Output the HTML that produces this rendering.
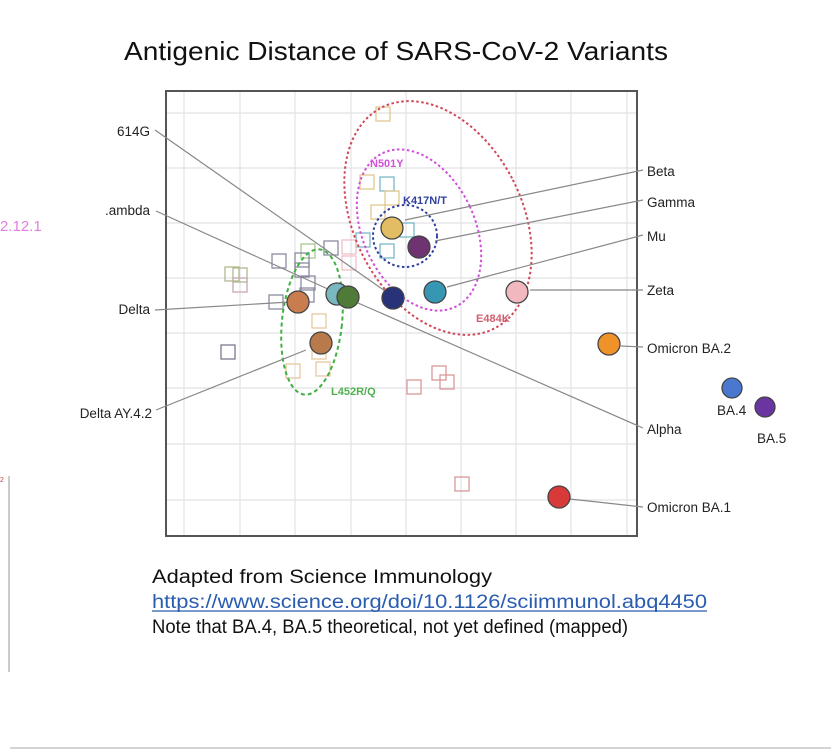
<!DOCTYPE html>
<html><head><meta charset="utf-8"><style>
body{margin:0;background:#fff;}
svg{display:block;font-family:"Liberation Sans",Arial,sans-serif;}
</style></head><body>
<svg width="831" height="750" viewBox="0 0 831 750">
<rect width="831" height="750" fill="#fff"/>
<text x="124" y="60" font-size="26" textLength="544" lengthAdjust="spacingAndGlyphs" fill="#111">Antigenic Distance of SARS-CoV-2 Variants</text>
<g stroke="#e2e2e8" stroke-width="1.2">
<line x1="184" y1="92" x2="184" y2="535"/><line x1="240" y1="92" x2="240" y2="535"/><line x1="295" y1="92" x2="295" y2="535"/><line x1="351" y1="92" x2="351" y2="535"/><line x1="406" y1="92" x2="406" y2="535"/><line x1="461" y1="92" x2="461" y2="535"/><line x1="516" y1="92" x2="516" y2="535"/><line x1="571" y1="92" x2="571" y2="535"/><line x1="627" y1="92" x2="627" y2="535"/>
<line x1="167" y1="113" x2="636" y2="113"/><line x1="167" y1="168" x2="636" y2="168"/><line x1="167" y1="223" x2="636" y2="223"/><line x1="167" y1="278" x2="636" y2="278"/><line x1="167" y1="333" x2="636" y2="333"/><line x1="167" y1="388" x2="636" y2="388"/><line x1="167" y1="444" x2="636" y2="444"/><line x1="167" y1="500" x2="636" y2="500"/>
</g>
<rect x="166" y="91" width="471" height="445" fill="none" stroke="#555" stroke-width="2"/>
<g fill="none" stroke-width="1.3">
<rect x="376" y="107" width="14" height="14" stroke="#e0c890"/>
<rect x="360" y="175" width="14" height="14" stroke="#e0c890"/>
<rect x="380" y="177" width="14" height="14" stroke="#7ab8c8"/>
<rect x="385" y="191" width="14" height="14" stroke="#e0c890"/>
<rect x="371" y="205" width="14" height="14" stroke="#e0c890"/>
<rect x="400" y="223" width="14" height="14" stroke="#7ab8c8"/>
<rect x="356" y="233" width="14" height="14" stroke="#7ab8c8"/>
<rect x="380" y="244" width="14" height="14" stroke="#7ab8c8"/>
<rect x="342" y="240" width="14" height="14" stroke="#f0c0c8"/>
<rect x="342" y="256" width="14" height="14" stroke="#f0c0c8"/>
<rect x="324" y="241" width="14" height="14" stroke="#8a8aa0"/>
<rect x="301" y="244" width="14" height="14" stroke="#a8c890"/>
<rect x="272" y="254" width="14" height="14" stroke="#8a8aa0"/>
<rect x="295" y="253" width="14" height="14" stroke="#8a8aa0"/>
<rect x="295" y="263" width="14" height="14" stroke="#8a8aa0"/>
<rect x="301" y="276" width="14" height="14" stroke="#8a8aa0"/>
<rect x="300" y="288" width="14" height="14" stroke="#8a8aa0"/>
<rect x="225" y="267" width="14" height="14" stroke="#b0b890"/>
<rect x="233" y="268" width="14" height="14" stroke="#b0b890"/>
<rect x="233" y="278" width="14" height="14" stroke="#c8a8b0"/>
<rect x="269" y="295" width="14" height="14" stroke="#8a8aa0"/>
<rect x="312" y="314" width="14" height="14" stroke="#e8c8a0"/>
<rect x="312" y="345" width="14" height="14" stroke="#e8c8a0"/>
<rect x="221" y="345" width="14" height="14" stroke="#7a7a90"/>
<rect x="286" y="364" width="14" height="14" stroke="#e8c8a0"/>
<rect x="316" y="362" width="14" height="14" stroke="#e8c8a0"/>
<rect x="407" y="380" width="14" height="14" stroke="#d89898"/>
<rect x="432" y="366" width="14" height="14" stroke="#d89898"/>
<rect x="440" y="375" width="14" height="14" stroke="#d89898"/>
<rect x="455" y="477" width="14" height="14" stroke="#d89898"/>
</g>
<g fill="none" stroke-width="2" stroke-dasharray="2.5,2.5">
<ellipse cx="438" cy="218" rx="84" ry="124" transform="rotate(-27 438 218)" stroke="#d04858"/>
<ellipse cx="419" cy="230" rx="56" ry="85" transform="rotate(-25 419 230)" stroke="#d050d8"/>
<ellipse cx="405" cy="236" rx="32" ry="31" stroke="#3040a0"/>
<ellipse cx="312" cy="322" rx="30" ry="73" transform="rotate(6 312 322)" stroke="#40b040" stroke-dasharray="4,3"/>
</g>
<g font-size="11" font-weight="bold">
<text x="370" y="167" fill="#d050d8">N501Y</text>
<text x="403" y="204" fill="#3040a0">K417N/T</text>
<text x="476" y="322" fill="#d06070">E484K</text>
<text x="331" y="395" fill="#50b050">L452R/Q</text>
</g>
<g stroke="#888" stroke-width="1.2">
<line x1="155" y1="130" x2="385" y2="291"/>
<line x1="156" y1="211" x2="330" y2="290"/>
<line x1="155" y1="310" x2="290" y2="302"/>
<line x1="156" y1="410" x2="306" y2="350"/>
<line x1="358" y1="303" x2="643" y2="428"/>
<line x1="405" y1="220" x2="643" y2="170"/>
<line x1="435" y1="241" x2="643" y2="200"/>
<line x1="447" y1="287" x2="643" y2="235"/>
<line x1="530" y1="290" x2="643" y2="290"/>
<line x1="621" y1="346" x2="643" y2="347"/>
<line x1="570" y1="499" x2="643" y2="507"/>
</g>
<g stroke="#444" stroke-width="1.3">
<circle cx="392" cy="228" r="11" fill="#e3bd63"/>
<circle cx="419" cy="247" r="11" fill="#6e3370"/>
<circle cx="435" cy="292" r="11" fill="#3797b2"/>
<circle cx="517" cy="292" r="11" fill="#f2b8c0"/>
<circle cx="393" cy="298" r="11" fill="#283278"/>
<circle cx="337" cy="294" r="11" fill="#7ab8c0"/>
<circle cx="348" cy="297" r="11" fill="#4f7a38"/>
<circle cx="298" cy="302" r="11" fill="#c97d4e"/>
<circle cx="321" cy="343" r="11" fill="#b87a4a"/>
<circle cx="609" cy="344" r="11" fill="#f0922a"/>
<circle cx="559" cy="497" r="11" fill="#d83a3a"/>
<circle cx="732" cy="388" r="10" fill="#4a78d0"/>
<circle cx="765" cy="407" r="10" fill="#6a35a0"/>
</g>
<g font-size="13.5" fill="#222">
<text x="150" y="136" text-anchor="end">614G</text>
<text x="150" y="215" text-anchor="end">.ambda</text>
<text x="150" y="314" text-anchor="end">Delta</text>
<text x="152" y="418" text-anchor="end">Delta AY.4.2</text>
<text x="647" y="176">Beta</text>
<text x="647" y="207">Gamma</text>
<text x="647" y="241">Mu</text>
<text x="647" y="295">Zeta</text>
<text x="647" y="353">Omicron BA.2</text>
<text x="647" y="434">Alpha</text>
<text x="647" y="512">Omicron BA.1</text>
<text x="717" y="415">BA.4</text>
<text x="757" y="443">BA.5</text>
</g>
<text x="0" y="231" font-size="15" fill="#e080e0">2.12.1</text>
<text x="0" y="482" font-size="7" fill="#c04040">2</text>
<line x1="9" y1="476" x2="9" y2="672" stroke="#aaa" stroke-width="1.2"/>
<line x1="10" y1="748" x2="831" y2="748" stroke="#bbb" stroke-width="1.2"/>
<g font-size="19" fill="#111">
<text x="152" y="583" textLength="340" lengthAdjust="spacingAndGlyphs">Adapted from Science Immunology</text>
<text x="152" y="608" fill="#2a5db0" textLength="555" lengthAdjust="spacingAndGlyphs">https://www.science.org/doi/10.1126/sciimmunol.abq4450</text>
<text x="152" y="633" textLength="476" lengthAdjust="spacingAndGlyphs">Note that BA.4, BA.5 theoretical, not yet defined (mapped)</text>
</g>
<line x1="152" y1="611" x2="707" y2="611" stroke="#2a5db0" stroke-width="1.2"/>
</svg>
</body></html>
